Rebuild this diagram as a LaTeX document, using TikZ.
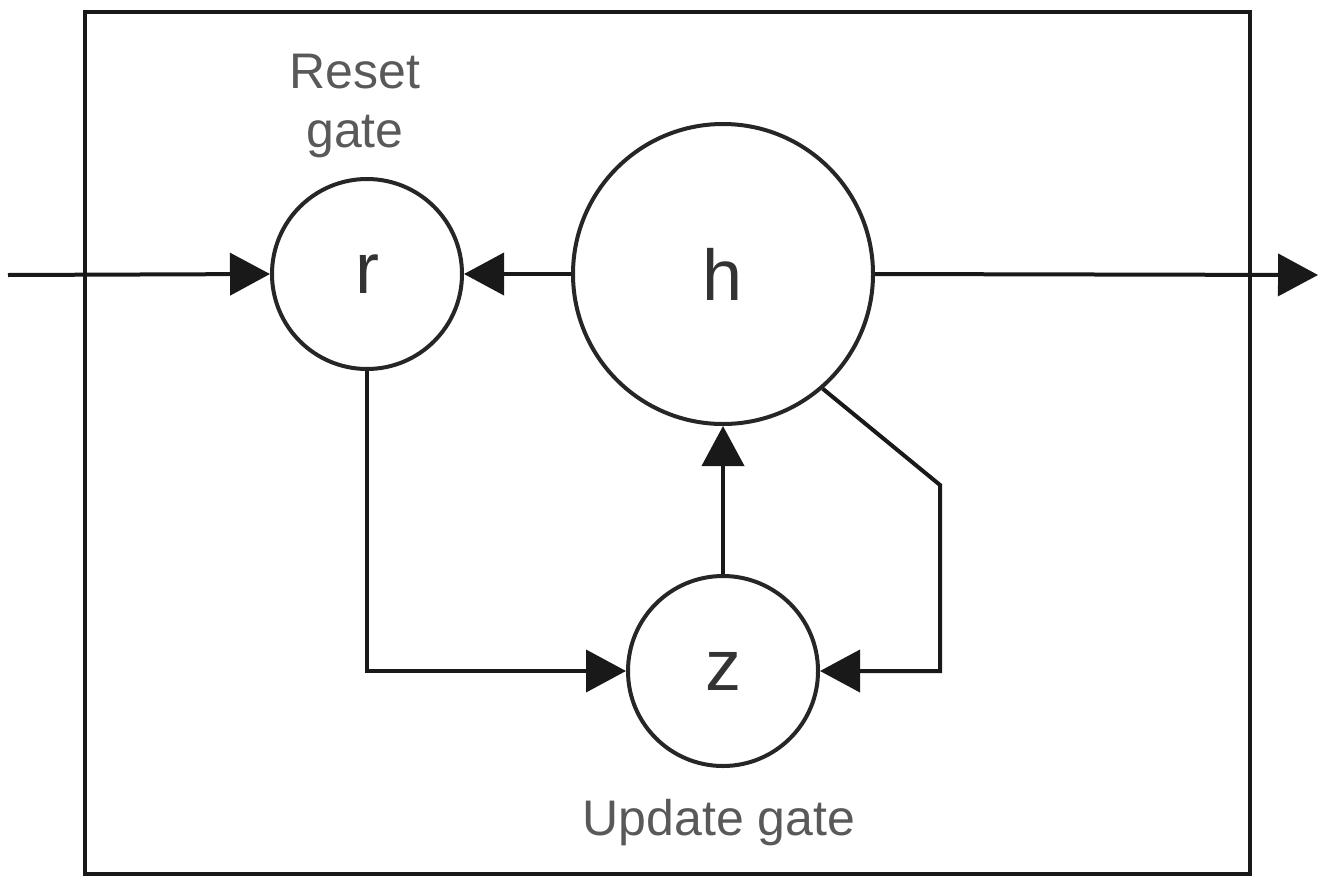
\documentclass[tikz,border=0pt]{standalone}
\usepackage{fontspec}
\setmainfont{Liberation Sans}
\usetikzlibrary{arrows.meta}
\begin{document}
\begin{tikzpicture}[x=0.5pt,y=-0.5pt,
  gatecirc/.style={circle,draw=black!85,line width=2pt,inner sep=0pt,font=\fontsize{36}{40}\selectfont,text=black!80},
  conn/.style={line width=2pt,draw=black!90,-{Triangle[length=20pt,width=21pt]}},
  plainconn/.style={line width=2pt,draw=black!80},
  lbl/.style={font=\fontsize{25}{29}\selectfont,text=black!65,inner sep=0pt}]
\useasboundingbox (0,0) rectangle (1326,878);
\draw[line width=2.4pt,black!90] (85,12) rectangle (1250,874);
\node[gatecirc,minimum size=95pt] (r) at (367,274) {r};
\node[gatecirc,minimum size=150pt] (h) at (723,274) {h};
\node[gatecirc,minimum size=95pt] (z) at (723,671) {z};
\coordinate (in) at (8,275);
\coordinate (out) at (1318,275);
\coordinate (bend) at (940,485);
\draw[conn] (in) -- (r.west);
\draw[conn] (h.west) -- (r.east);
\draw[conn] (h.east) -- (out);
\draw[conn] (r.south) |- (z.west);
\draw[conn] (z.north) -- (h.south);
\draw[conn] (h.-49) -- (bend) |- (z.east);
\node[lbl,anchor=base] (reset) at (355,88) {Reset};
\node[lbl,anchor=base] (gate) at (355,147) {gate};
\node[lbl,anchor=base] (upd) at (719,835) {Update gate};
\end{tikzpicture}
\end{document}
